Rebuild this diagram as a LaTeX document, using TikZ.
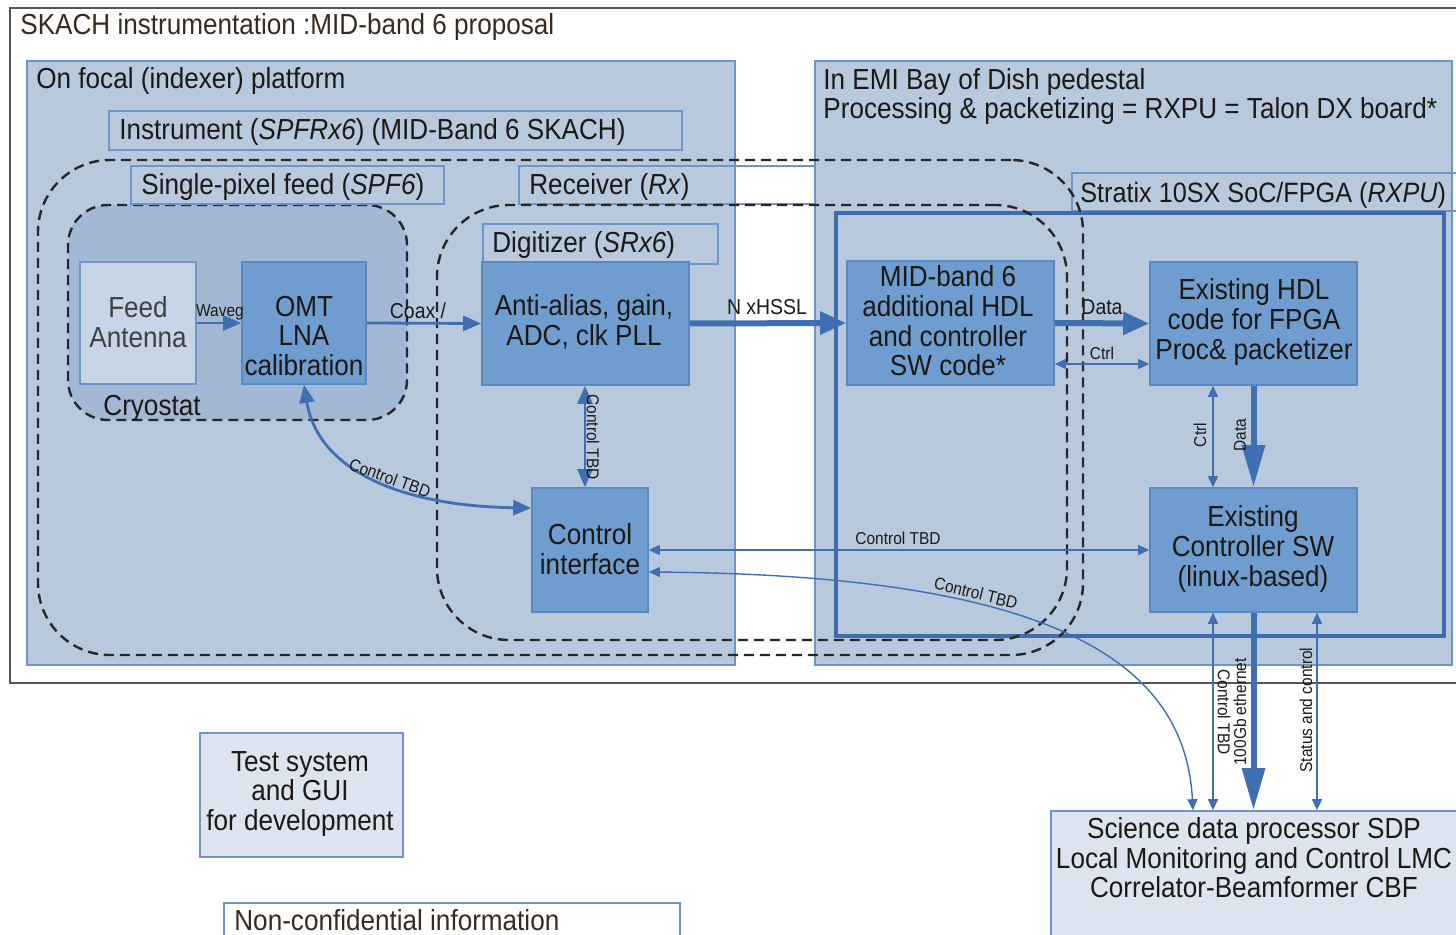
\documentclass[tikz,border=0pt]{standalone}
\usepackage{fontspec}
\setmainfont{Liberation Sans}[FakeStretch=0.9]
\usetikzlibrary{arrows.meta,fit}
\definecolor{platform}{HTML}{B8C9DE}
\definecolor{cryo}{HTML}{A2B8D4}
\definecolor{blockfill}{HTML}{709DD0}
\definecolor{blockline}{HTML}{5A88C2}
\definecolor{edge}{HTML}{6E95C6}
\definecolor{pale}{HTML}{DCE4EF}
\definecolor{feedfill}{HTML}{C8D5E6}
\definecolor{wire}{HTML}{3F6FB0}
\definecolor{ink}{HTML}{1C1915}
\definecolor{brownink}{HTML}{3A2A1E}
\definecolor{framegray}{HTML}{555555}
\definecolor{stratix}{HTML}{3E6DAE}

\tikzset{
  big/.style={font=\fontsize{14.5}{14.8}\selectfont, text=ink},
  small/.style={font=\fontsize{8.6}{9}\selectfont, text=ink, inner sep=0pt},
  mid/.style={font=\fontsize{10.8}{11}\selectfont, text=ink, inner sep=0pt},
  area/.style={fill=platform, draw=edge, line width=0.6pt, inner sep=0pt},
  tagbox/.style={draw=edge, line width=0.6pt, inner sep=0pt},
  tagtext/.style={big, anchor=base west, inner sep=0pt},
  blocktext/.style={big, align=center, inner sep=0pt},
  block/.style={fill=blockfill, draw=blockline, line width=0.8pt, inner sep=0pt},
  palebox/.style={fill=pale, draw=edge, line width=0.8pt, inner sep=0pt},
  dashline/.style={draw=black!85, line width=1.2pt, dash pattern=on 5pt off 3pt},
  thinlink/.style={draw=wire, line width=0.7pt,
     {Triangle[width=5pt,length=5.5pt]}-{Triangle[width=5pt,length=5.5pt]}},
  medlink/.style={draw=wire, line width=1.4pt, -{Triangle[width=7.5pt,length=9pt]}},
  meddouble/.style={draw=wire, line width=1.4pt,
     {Triangle[width=7.5pt,length=9pt]}-{Triangle[width=7.5pt,length=9pt]}},
  fatlink/.style={draw=wire, line width=3pt, -{Triangle[width=11pt,length=13pt]}},
  fatlong/.style={draw=wire, line width=3pt, -{Triangle[width=11pt,length=21pt]}},
}

\begin{document}
\begin{tikzpicture}[x=0.5pt,y=-0.5pt]
\useasboundingbox (0,0) rectangle (1456,935);
\clip (0,0) rectangle (1456,935);
\fill[white] (0,0) rectangle (1456,935);

% outer frame and heading
\draw[framegray, line width=0.7pt] (10,8) rectangle (1490,683);
\node[tagtext, text=brownink] (title) at (20,35) {SKACH instrumentation :MID-band 6 proposal};

% the two platforms
\node[area, fit={(27,61)(735,665)}] (focal) {};
\node[area, fit={(815,61)(1452,665)}] (emi) {};
\node[tagtext] (focaltxt) at (36,89) {On focal (indexer) platform};
\node[tagtext] (emitxt) at (823,90) {In EMI Bay of Dish pedestal};
\node[tagtext] (emitxt2) at (823,119) {Processing \& packetizing = RXPU = Talon DX board*};

% instrument caption
\node[tagbox, fit={(109,111)(682,150)}] (instbox) {};
\node[tagtext] (insttxt) at (119,140) {Instrument (\textit{SPFRx6}) (MID-Band 6 SKACH)};

% cryostat
\node[dashline, fill=cryo, rounded corners=20pt, inner sep=0pt, fit={(68,205)(407,420)}] (cryostat) {};

% captions of feed, receiver, digitizer, FPGA
\node[tagbox, fit={(131,166)(444,204)}] (spfbox) {};
\node[tagtext] (spftxt) at (141,195) {Single-pixel feed (\textit{SPF6})};
\node[tagbox, fit={(519,166)(815,204)}] (rxbox) {};
\node[tagtext] (rxtxt) at (529,195) {Receiver (\textit{Rx})};
\node[tagbox, fit={(483,224)(718,264)}] (digbox) {};
\node[tagtext] (digtxt) at (492,253) {Digitizer (\textit{SRx6})};
\node[tagbox, fit={(1072,173)(1500,211)}] (stxbox) {};
\node[tagtext, font=\fontsize{14}{14.8}\selectfont] (stxtxt) at (1080,203) {Stratix 10SX SoC/FPGA (\textit{RXPU})};

% FPGA board outline
\node[draw=stratix, line width=2pt, inner sep=0pt, fit={(836,213)(1444,636)}] (fpga) {};

% dashed instrument and receiver outlines
\node[dashline, rounded corners=36pt, inner sep=0pt, fit={(38,160)(1083,655)}] (instrument) {};
\node[dashline, rounded corners=36pt, inner sep=0pt, fit={(437,205)(1067,640)}] (receiver) {};
\node[big, inner sep=0pt] (cryotxt) at (152,408) {Cryostat};

% functional blocks
\node[fill=feedfill, draw=edge, line width=0.8pt, inner sep=0pt, fit={(80,262)(196,384)}] (feed) {};
\node[blocktext, text=black!75] (feedtxt) at (138,322) {Feed\\Antenna};
\node[block, fit={(242,262)(366,384)}] (omt) {};
\node[blocktext] (omttxt) at (304,336) {OMT\\LNA\\calibration};
\node[block, fit={(482,262)(689,385)}] (adc) {};
\node[blocktext] (adctxt) at (584,322) {Anti-alias, gain,\\ADC, clk PLL};
\node[block, fit={(532,488)(648,612)}] (ctrlif) {};
\node[blocktext] (ctrliftxt) at (590,549) {Control\\interface};
\node[block, fit={(847,261)(1054,385)}] (hdlnew) {};
\node[blocktext] (hdlnewtxt) at (948,321) {MID-band 6\\additional HDL\\and controller\\SW code*};
\node[block, fit={(1150,262)(1357,385)}] (hdl) {};
\node[blocktext] (hdltxt) at (1254,322) {Existing HDL\\code for FPGA\\Proc\& packetizer};
\node[block, fit={(1150,488)(1357,612)}] (ctlsw) {};
\node[blocktext] (ctlswtxt) at (1253,549) {Existing\\Controller SW\\(linux-based)};
\node[palebox, fit={(200,733)(403,857)}] (testsys) {};
\node[blocktext] (testtxt) at (300,794) {Test system\\and GUI\\for development};
\node[palebox, fit={(1051,811)(1500,1000)}] (sdp) {};
\node[blocktext] (sdptxt) at (1254,858)
  {Science data processor SDP\\Local Monitoring and Control LMC\\Correlator-Beamformer CBF};
\node[fill=white, draw=edge, line width=0.6pt, inner sep=0pt, fit={(224,903)(680,950)}] (ncbox) {};
\node[tagtext, text=brownink] (nctxt) at (234,930) {Non-confidential information};

% helper coordinates for connector positions
\coordinate (yctrl) at (0,364);
\coordinate (yhor) at (0,550);
\coordinate (ylow) at (0,572);
\coordinate (ycurve) at (0,508);
\coordinate (xa) at (1193,0);
\coordinate (xb) at (1213,0);
\coordinate (xc) at (1317,0);
\coordinate (xd) at (585,0);

% signal chain
\draw[medlink] (feed.east) -- (omt.west);
\node[small] (wavelbl) at (220,312) {Waveg};
\draw[medlink] (omt.east) -- (adc.west);
\node[mid] (coaxlbl) at (418,311) {Coax /};
\draw[fatlink] (adc.east) -- (hdlnew.west);
\node[mid] (hssllbl) at (767,307) {N xHSSL};
\draw[fatlink] (hdlnew.east) -- (hdl.west);
\node[mid] (datalbl) at (1102,307) {Data};
\draw[thinlink] (hdlnew.east |- yctrl) -- (hdl.west |- yctrl);
\node[small] (ctrllbl) at (1102,353) {Ctrl};
\draw[thinlink] (hdl.south -| xb) -- (ctlsw.north -| xb);
\node[small, rotate=90] (ctrlv) at (1200,435) {Ctrl};
\draw[fatlong] (hdl.south) -- (ctlsw.north);
\node[small, rotate=90] (datav) at (1240,435) {Data};

% control paths on the focal platform
\draw[meddouble] (adc.south -| xd) -- (ctrlif.north -| xd);
\node[small, rotate=-90] (ctlv) at (593,437) {Control TBD};
\draw[meddouble] (omt.south) .. controls (318,470) and (400,506) .. (ctrlif.west |- ycurve);
\node[small, rotate=-20] (ctlcurve) at (390,478) {Control TBD};

% control paths to the pedestal and beyond
\draw[thinlink] (ctrlif.east |- yhor) -- (ctlsw.west |- yhor);
\node[small] (ctlh) at (898,538) {Control TBD};
\draw[thinlink] (ctrlif.east |- ylow) .. controls (1050,575) and (1185,660) .. (sdp.north -| xa);
\node[small, rotate=-14] (ctlsdp) at (976,593) {Control TBD};

% links from controller to SDP/LMC/CBF
\draw[thinlink] (ctlsw.south -| xb) -- (sdp.north -| xb);
\node[small, rotate=-90] (ctlsdpv) at (1224,712) {Control TBD};
\draw[fatlong] (ctlsw.south) -- (sdp.north -| ctlsw.south);
\node[small, rotate=90] (ethlbl) at (1240,712) {100Gb ethernet};
\draw[thinlink] (ctlsw.south -| xc) -- (sdp.north -| xc);
\node[small, rotate=90] (statlbl) at (1306,710) {Status and control};
\end{tikzpicture}
\end{document}
